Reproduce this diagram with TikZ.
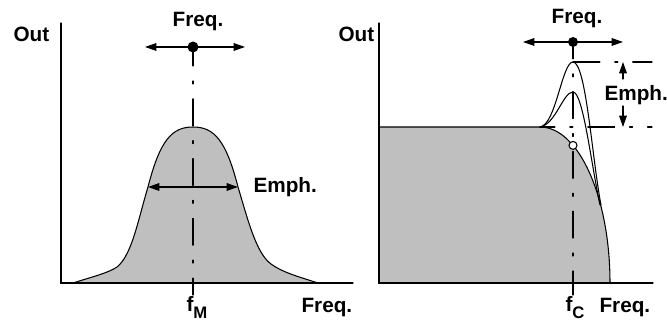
\documentclass[tikz,border=0pt]{standalone}
\usepackage{fontspec}
\setmainfont{Liberation Sans}
\usetikzlibrary{arrows.meta}

\tikzset{
  lbl/.style={font=\bfseries\fontsize{11.8}{14}\selectfont,inner sep=0pt},
  dashdot/.style={dash pattern=on 15.3pt off 8.5pt on 1.7pt off 8.5pt},
  curve/.style={line width=0.6pt}
}

\begin{document}
\begin{tikzpicture}[x=0.02cm,y=0.02cm,>={Triangle[length=6.5pt,width=4.4pt]},line cap=round,line width=0.6pt]
\useasboundingbox (0,0) rectangle (667,323);
% left panel
\coordinate (oL) at (61,40);
\coordinate (yL) at (61,300);
\coordinate (xL) at (353,40);
\fill[black!25] (73,40) .. controls (95,47) and (108,50) .. (117,56)
  .. controls (132,68) and (138,103) .. (148,136)
  .. controls (160,183) and (172,196) .. (193,196)
  .. controls (214,196) and (226,183) .. (238,136)
  .. controls (248,103) and (256,70) .. (271,59)
  .. controls (282,51) and (296,47) .. (318,40) -- cycle;
\draw[curve] (73,40) .. controls (95,47) and (108,50) .. (117,56)
  .. controls (132,68) and (138,103) .. (148,136)
  .. controls (160,183) and (172,196) .. (193,196)
  .. controls (214,196) and (226,183) .. (238,136)
  .. controls (248,103) and (256,70) .. (271,59)
  .. controls (282,51) and (296,47) .. (318,40);
\draw (yL) -- (oL) -- (xL);
\node[lbl,anchor=base west] (outL) at (13,281) {Out};
\node[lbl,anchor=base] (freqTopL) at (198,296) {Freq.};
\coordinate (dotL) at (193,276);
\coordinate (axL) at (193,40);
\coordinate (tickL) at (193,28);
\coordinate (arrLa) at (145,276);
\coordinate (arrLb) at (245,276);
\draw[dashdot,dash phase=4.5pt] (dotL) -- (axL);
\draw (axL) -- (tickL);
\draw[<->] (arrLa) -- (arrLb);
\fill (dotL) circle (5.5);
\coordinate (emLa) at (148,136);
\coordinate (emLb) at (238,136);
\draw[<->] (emLa) -- (emLb);
\node[lbl,anchor=base west] (emphL) at (253,130) {Emph.};
\node[lbl,anchor=base west] (fM) at (186,11) {f\raisebox{-3.5pt}{\fontsize{9.5}{10}\selectfont M}};
\node[lbl,anchor=base west] (freqL) at (301,10) {Freq.};
% right panel
\coordinate (oR) at (379,40);
\coordinate (yR) at (379,300);
\coordinate (xR) at (653,40);
\fill[black!25] (oR) -- (379,196) -- (540,196) arc[start angle=90,end angle=0,x radius=70,y radius=156] -- cycle;
\draw[curve] (oR) -- (379,196) -- (540,196) arc[start angle=90,end angle=0,x radius=70,y radius=156];
\draw[curve] (540,196) .. controls (556,198) and (562,261) .. (573,261)
  .. controls (586,261) and (592,165) .. (601,118);
\draw[curve] (540,196) .. controls (556,199) and (563,231) .. (573,231)
  .. controls (583,231) and (591,160) .. (600,118);
\draw (yR) -- (oR) -- (xR);
\node[lbl,anchor=base west] (outR) at (338,281) {Out};
\node[lbl,anchor=base] (freqTopR) at (577,299) {Freq.};
\coordinate (dotR) at (573,281);
\coordinate (axR) at (573,40);
\coordinate (tickR) at (573,28);
\coordinate (arrRa) at (523,281);
\coordinate (arrRb) at (623,281);
\draw[dashdot,dash phase=5.7pt] (dotR) -- (axR);
\draw (axR) -- (tickR);
\draw[<->] (arrRa) -- (arrRb);
\fill (dotR) circle (5);
\draw[fill=white] (573,177.6) circle (4);
% emphasis levels
\coordinate (hiA) at (573,261);
\coordinate (hiB) at (652,261);
\coordinate (loA) at (540,196);
\coordinate (loB) at (652,196);
\draw[dashdot] (hiA) -- (hiB);
\draw[dashdot,dash phase=6.8pt] (loA) -- (loB);
\coordinate (upA) at (623,244);
\coordinate (upB) at (623,261);
\coordinate (dnA) at (623,217);
\coordinate (dnB) at (623,196);
\draw[->] (upA) -- (upB);
\draw[->] (dnA) -- (dnB);
\node[lbl,anchor=base west] (emphR) at (604,222) {Emph.};
\node[lbl,anchor=base west] (fC) at (565,11) {f\raisebox{-3.5pt}{\fontsize{9.5}{10}\selectfont C}};
\node[lbl,anchor=base west] (freqR) at (599,10) {Freq.};
\end{tikzpicture}
\end{document}
